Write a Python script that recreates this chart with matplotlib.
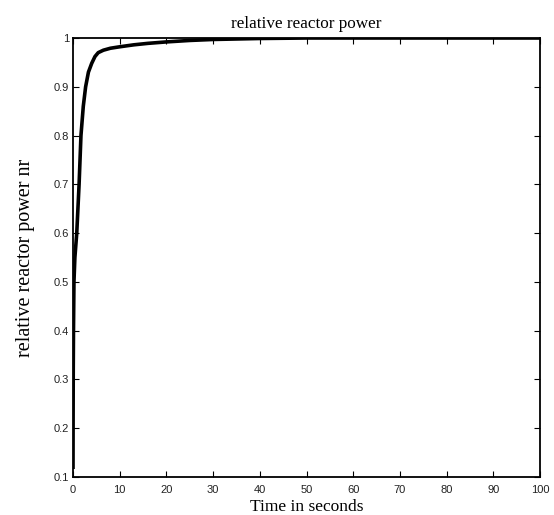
import numpy as np
import matplotlib
matplotlib.use('Agg')
import matplotlib.pyplot as plt

# time (s) and relative reactor power
t = [0, 0.02, 0.05, 0.1, 0.2, 0.4, 0.8, 1.3, 1.7, 2.2, 2.7, 3.3, 4.0, 4.7,
     5.4, 6.5, 8.0, 10, 13, 16, 20, 25, 30, 35, 40, 50, 60, 70, 80, 90, 100]
nr = [0.12, 0.22, 0.32, 0.40, 0.50, 0.55, 0.60, 0.70, 0.80, 0.86, 0.90,
      0.93, 0.948, 0.962, 0.970, 0.975, 0.979, 0.982, 0.986, 0.989, 0.992,
      0.995, 0.997, 0.998, 0.999, 1.0, 1.0, 1.0, 1.0, 1.0, 1.0]

xticks = [0, 10, 20, 30, 40, 50, 60, 70, 80, 90, 100]
yticks = [0.1, 0.2, 0.3, 0.4, 0.5, 0.6, 0.7, 0.8, 0.9, 1]

fig = plt.figure(figsize=(5.54, 5.15), dpi=100)
ax = fig.add_axes([0.1318, 0.0738, 0.8429, 0.8524])

ax.plot(t, nr, color='black', linewidth=2.6)
ax.set_xlim(0, 100)
ax.set_ylim(0.1, 1)
ax.set_xticks(xticks)
ax.set_yticks(yticks)
ax.set_xticklabels([str(v) for v in xticks])
ax.set_yticklabels(['0.1', '0.2', '0.3', '0.4', '0.5', '0.6', '0.7', '0.8', '0.9', '1'])
ax.tick_params(direction='in', top=True, right=True, length=4, width=0.8,
               labelsize=8, labelcolor='#222222')
ax.tick_params(axis='x', pad=6)
ax.tick_params(axis='y', pad=3)
for lab in ax.get_xticklabels() + ax.get_yticklabels():
    lab.set_family('Liberation Sans')
for s in ax.spines.values():
    s.set_linewidth(1.3)

ax.set_title('relative reactor power', family='Liberation Serif', fontsize=12.3, pad=7)
ax.set_xlabel('Time in seconds', family='Liberation Serif', fontsize=12.5, labelpad=3)
ax.set_ylabel('relative reactor power nr', family='Liberation Serif', fontsize=14.5, labelpad=13)

fig.savefig('out.png', dpi=100)
